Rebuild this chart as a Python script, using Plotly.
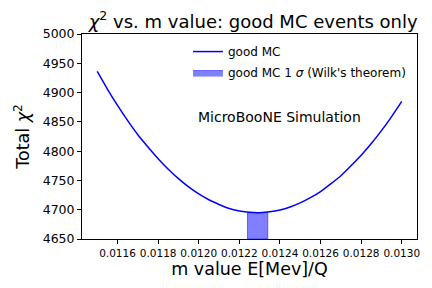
import plotly.graph_objects as go

# m values and chi2
m_values = [0.01150, 0.01155, 0.01160, 0.01165, 0.01170, 0.01175, 0.01180, 0.01185,
            0.01190, 0.01195, 0.01200, 0.01205, 0.01210, 0.01215, 0.01220, 0.01225,
            0.01230, 0.01235, 0.01240, 0.01245, 0.01250, 0.01255, 0.01260, 0.01265,
            0.01270, 0.01275, 0.01280, 0.01285, 0.01290, 0.01295, 0.01300]
chi2_values = [4936, 4906, 4878, 4852, 4828, 4807, 4787, 4769,
               4753, 4739, 4727, 4717, 4709, 4702, 4698, 4695.6,
               4695, 4696.4, 4699.6, 4704.7, 4711.6, 4720.5, 4731, 4744,
               4758, 4775, 4793, 4813, 4835, 4859, 4885]

# 1 sigma band
sigma_lo = 0.01224
sigma_hi = 0.01234
band_bottom = 4650
band_top = 4695

x_ticks = [0.0116, 0.0118, 0.0120, 0.0122, 0.0124, 0.0126, 0.0128, 0.0130]
y_ticks = [4650, 4700, 4750, 4800, 4850, 4900, 4950, 5000]

font = "DejaVu Sans"

fig = go.Figure()
fig.add_trace(go.Scatter(
    x=m_values, y=chi2_values, mode="lines", name="good MC",
    line=dict(color="#0000ff", width=1.5, shape="spline", smoothing=0.6), legendgroup="a",
))
fig.add_trace(go.Scatter(
    x=[sigma_lo, sigma_hi, sigma_hi, sigma_lo, sigma_lo],
    y=[band_bottom, band_bottom, band_top, band_top, band_bottom],
    mode="lines", fill="toself", name="good MC 1 <i>σ</i> (Wilk's theorem)",
    line=dict(color="rgba(0,0,255,0.5)", width=1),
    fillcolor="rgba(0,0,255,0.5)", legendgroup="b",
))

fig.add_annotation(
    x=0.012397, y=4859, xref="x", yref="y", text="MicroBooNE Simulation",
    showarrow=False, font=dict(family=font, size=14, color="black"),
)

fig.update_layout(
    width=432, height=288, autosize=False,
    margin=dict(l=82, r=15, t=34, b=49),
    paper_bgcolor="white", plot_bgcolor="white",
    font=dict(family=font, color="black"),
    title=dict(text="<i>χ</i><sup>2</sup> vs. m value: good MC events only",
               x=0.586, xanchor="center", y=0.948, yanchor="top",
               font=dict(size=18, family=font, color="black")),
    showlegend=True,
    legend=dict(x=0.982, y=0.985, xanchor="right", yanchor="top",
                bgcolor="rgba(255,255,255,0)", font=dict(size=12, family=font),
                traceorder="grouped", tracegroupgap=2),
)
fig.update_xaxes(
    range=[0.011425, 0.013075], tickvals=x_ticks, tickformat=".4f", tickangle=0,
    showgrid=False, zeroline=False, showline=True, linecolor="black", linewidth=1,
    mirror=True, ticks="outside", ticklen=4, tickcolor="black",
    tickfont=dict(size=10.5, family=font), automargin=False,
    title=dict(text="m value E[Mev]/Q", font=dict(size=17.5, family=font), standoff=1),
)
fig.update_yaxes(
    range=[4650, 5000], tickvals=y_ticks,
    showgrid=False, zeroline=False, showline=True, linecolor="black", linewidth=1,
    mirror=True, ticks="outside", ticklen=4, tickcolor="black",
    tickfont=dict(size=12.5, family=font), automargin=False,
    title=dict(text="Total <i>χ</i><sup>2</sup>", font=dict(size=17.5, family=font), standoff=8),
)

fig.write_html(
    "out.html",
    config={"responsive": False, "displayModeBar": False},
    post_script="document.body.style.margin='0';document.body.style.overflow='hidden';",
)
